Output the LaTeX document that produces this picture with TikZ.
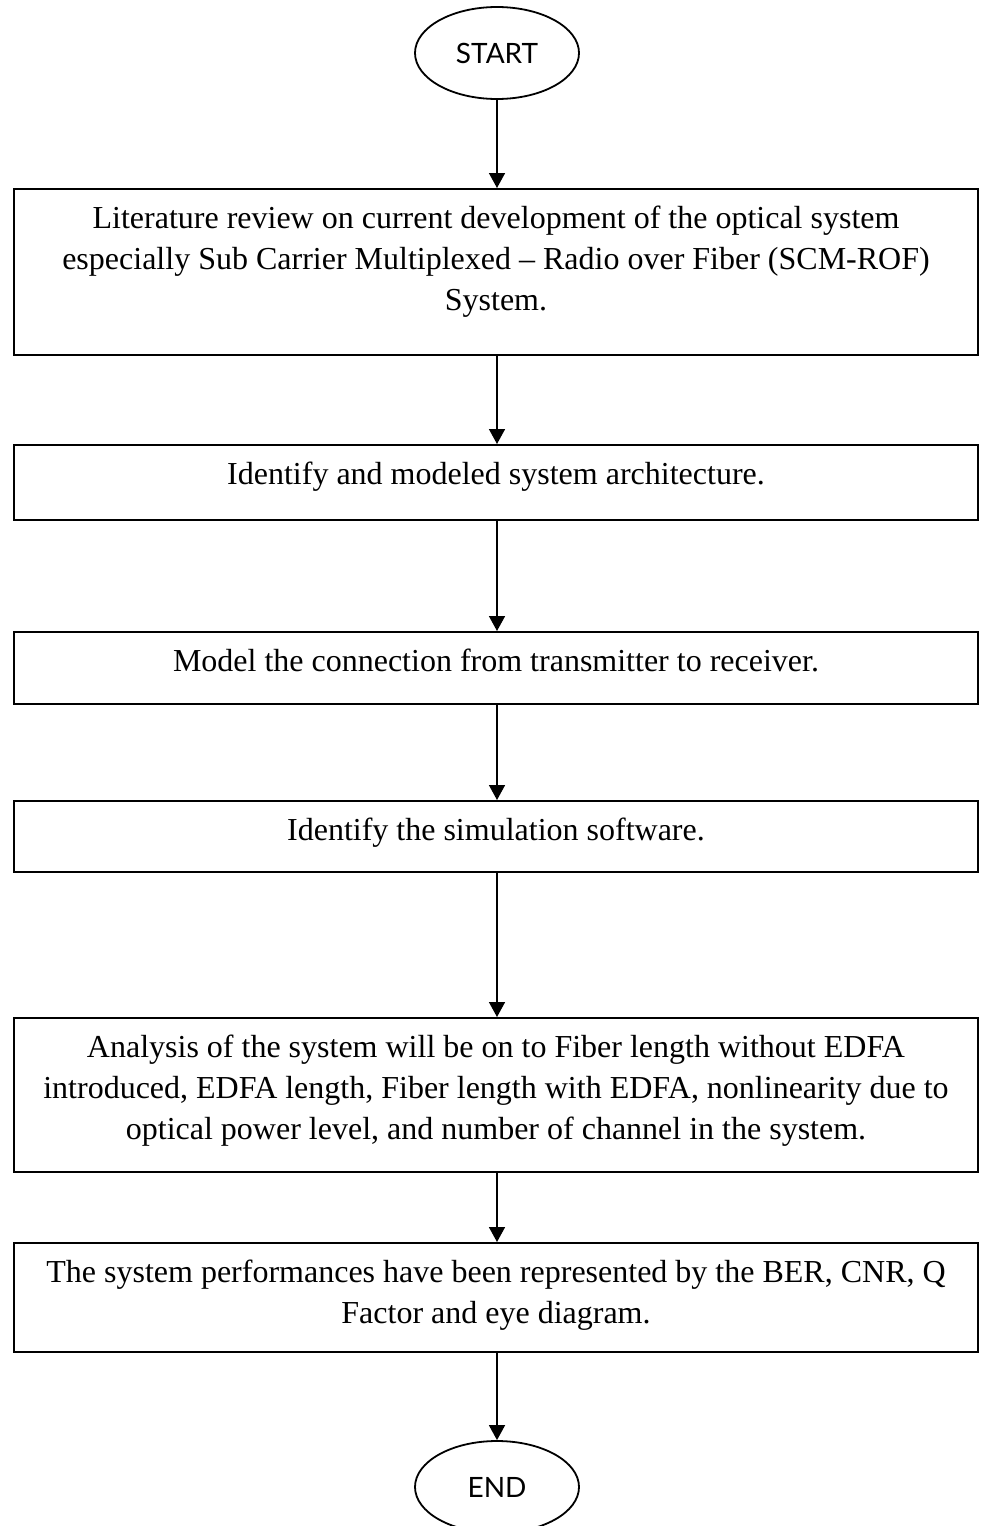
\documentclass[tikz,border=0pt]{standalone}
\usepackage{fontspec}
\setmainfont{Liberation Serif}
\newfontfamily\ovalfont{Lato}
\usetikzlibrary{shapes.geometric,arrows.meta}
\newcommand{\boxtext}[2]{\parbox[t][#1][t]{482pt}{\centering\fontsize{16}{20.5}\selectfont\rule{0pt}{19.5pt}#2}}
\begin{document}
\begin{tikzpicture}[x=0.5pt,y=-0.5pt,
  stepbox/.style={draw,line width=1pt,rectangle,inner sep=0pt,anchor=north},
  oval/.style={draw,line width=0.9pt,ellipse,minimum width=82pt,minimum height=46pt,inner sep=0pt,font=\ovalfont\fontsize{14}{16}\selectfont},
  flow/.style={-{Triangle[width=8pt,length=7.5pt]},line width=0.8pt}]
\useasboundingbox (0,0) rectangle (982,1526);
\node[oval] (start) at (497,53) {START};
\node[stepbox] (b1) at (496,188) {\boxtext{83pt}{Literature review on current development of the optical system\\ especially Sub Carrier Multiplexed – Radio over Fiber (SCM-ROF)\\ System.}};
\node[stepbox] (b2) at (496,444) {\boxtext{37.5pt}{Identify and modeled system architecture.}};
\node[stepbox] (b3) at (496,631) {\boxtext{36pt}{Model the connection from transmitter to receiver.}};
\node[stepbox] (b4) at (496,800) {\boxtext{35.5pt}{Identify the simulation software.}};
\node[stepbox] (b5) at (496,1017) {\boxtext{77pt}{Analysis of the system will be on to Fiber length without EDFA\\ introduced, EDFA length, Fiber length with EDFA, nonlinearity due to\\ optical power level, and number of channel in the system.}};
\node[stepbox] (b6) at (496,1242) {\boxtext{54.5pt}{The system performances have been represented by the BER, CNR, Q\\ Factor and eye diagram.}};
\node[oval] (end) at (497,1487) {END};
\draw[flow] (start.south) -- (start.south |- b1.north);
\draw[flow] (start.south |- b1.south) -- (start.south |- b2.north);
\draw[flow] (start.south |- b2.south) -- (start.south |- b3.north);
\draw[flow] (start.south |- b3.south) -- (start.south |- b4.north);
\draw[flow] (start.south |- b4.south) -- (start.south |- b5.north);
\draw[flow] (start.south |- b5.south) -- (start.south |- b6.north);
\draw[flow] (start.south |- b6.south) -- (end.north);
\end{tikzpicture}
\end{document}
